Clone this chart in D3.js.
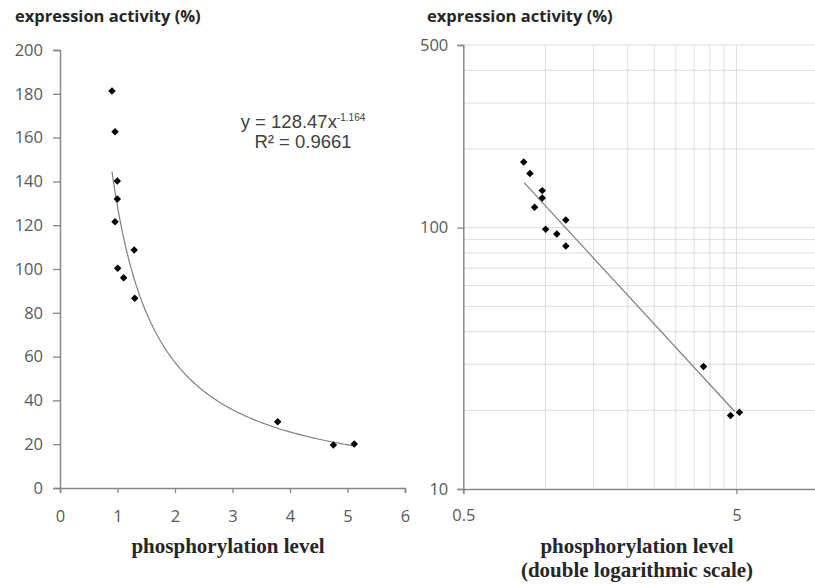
<!DOCTYPE html>
<html>
<head>
<meta charset="utf-8">
<script src="https://cdn.jsdelivr.net/npm/d3@7"></script>
<style>
  html, body { margin: 0; padding: 0; background: #fff; }
  svg { display: block; }
  .ylabel { font-family: "Open Sans", sans-serif; font-weight: bold; font-size: 16.5px; fill: #262626; }
  .xlabel { font-family: "Liberation Serif", serif; font-weight: bold; font-size: 21px; fill: #262626; }
  .tick text { font-family: "Open Sans", sans-serif; font-size: 16.5px; fill: #595959; }
  .eq { font-family: "Liberation Sans", Arial, sans-serif; font-size: 18.5px; fill: #404040; }
</style>
</head>
<body>
<svg id="chart" width="815" height="584"></svg>
<script>
// linear panel, values
const linX = [0.904, 0.957, 0.997, 0.997, 0.957, 1.29, 1.003, 1.107, 1.30, 3.786, 4.754, 5.118];
const linY = [181.3, 162.7, 140.2, 132.0, 121.6, 108.7, 100.3, 96.0, 86.6, 30.3, 19.6, 20.1];
const linXTicks = [0, 1, 2, 3, 4, 5, 6];
const linYTicks = [0, 20, 40, 60, 80, 100, 120, 140, 160, 180, 200];

// power trendline shown in the label
const fitA = 128.47;
const fitB = -1.164;

// log-log panel, values
const logX = [0.832, 0.877, 0.973, 0.973, 0.912, 1.187, 1.001, 1.10, 1.187, 3.79, 4.76, 5.13];
const logY = [178.4, 161, 138.6, 130, 119.7, 107, 98.6, 94.6, 85.1, 29.4, 19.1, 19.66];
const logXTicks = [0.5, 5];
const logYTicks = [10, 100, 500];
const logXGrid = [1, 1.5, 2, 2.5, 3, 3.5, 4, 4.5, 5];
const logYGrid = [20, 30, 40, 50, 60, 70, 80, 90, 100, 200, 300, 400, 500];
const trendLogX = [0.835, 4.93];
const trendLogY = [148.6, 19.8];

const svg = d3.select("#chart");
const axisColor = "#868686";
const marker = d3.symbol().type(d3.symbolSquare).size(28);

// ---------- left panel ----------
const xL = d3.scaleLinear().domain([0, 6]).range([60, 405]);
const yL = d3.scaleLinear().domain([0, 200]).range([488, 50]);

const gL = svg.append("g");

gL.append("text").attr("class", "ylabel").attr("x", 15).attr("y", 22)
  .text("expression activity (%)");

const axL = gL.append("g").attr("transform", "translate(60,0)")
  .call(d3.axisLeft(yL).tickValues(linYTicks).tickFormat(d3.format("d")).tickSize(7).tickPadding(10));
const axB = gL.append("g").attr("transform", "translate(0,488)")
  .call(d3.axisBottom(xL).tickValues(linXTicks).tickFormat(d3.format("d")).tickSize(5).tickPadding(17));

[axL, axB].forEach(a => {
  a.select(".domain").attr("stroke", axisColor).attr("stroke-width", 1.5);
  a.selectAll(".tick line").attr("stroke", axisColor).attr("stroke-width", 1.3);
});

// trendline curve
const fitXs = d3.range(0, 101).map(i => linX[0] + (d3.max(linX) - linX[0]) * i / 100);
gL.append("path")
  .datum(fitXs)
  .attr("fill", "none")
  .attr("stroke", "#7f7f7f")
  .attr("stroke-width", 1.2)
  .attr("d", d3.line().x(d => xL(d)).y(d => yL(fitA * Math.pow(d, fitB))));

gL.selectAll(".pt")
  .data(linX.map((x, i) => [x, linY[i]]))
  .enter()
  .append("path")
  .attr("d", marker)
  .attr("fill", "#000")
  .attr("transform", d => `translate(${xL(d[0])},${yL(d[1])}) rotate(45)`);

const eq = gL.append("text").attr("class", "eq").attr("x", 303).attr("y", 128).attr("text-anchor", "middle");
eq.append("tspan").text("y = 128.47x");
eq.append("tspan").attr("font-size", 10).attr("dy", -7).text("-1.164");
gL.append("text").attr("class", "eq").attr("x", 303).attr("y", 148).attr("text-anchor", "middle")
  .text("R² = 0.9661");

gL.append("text").attr("class", "xlabel").attr("x", 228).attr("y", 553).attr("text-anchor", "middle")
  .text("phosphorylation level");

// ---------- right panel ----------
const xR = d3.scaleLog().domain([0.5, 10]).range([463.3, 818.6]);
const yR = d3.scaleLog().domain([10, 500]).range([489, 45]);

const gR = svg.append("g");

gR.append("text").attr("class", "ylabel").attr("x", 427).attr("y", 22)
  .text("expression activity (%)");

// gridlines
gR.selectAll(".hgrid")
  .data(logYGrid)
  .enter()
  .append("line")
  .attr("x1", 463).attr("x2", 815)
  .attr("y1", d => yR(d)).attr("y2", d => yR(d))
  .attr("stroke", "#dcdcdc").attr("stroke-width", 1);

gR.selectAll(".vgrid")
  .data(logXGrid)
  .enter()
  .append("line")
  .attr("x1", d => xR(d)).attr("x2", d => xR(d))
  .attr("y1", 45).attr("y2", 489)
  .attr("stroke", "#dcdcdc").attr("stroke-width", 1);

const axRL = gR.append("g").attr("transform", "translate(463.3,0)")
  .call(d3.axisLeft(yR).tickValues(logYTicks).tickFormat(d3.format("d")).tickSize(6).tickPadding(9));
const axRB = gR.append("g").attr("transform", "translate(0,489)")
  .call(d3.axisBottom(xR).tickValues(logXTicks).tickFormat(d => String(d)).tickSize(5).tickPadding(15));

[axRL, axRB].forEach(a => {
  a.select(".domain").attr("stroke", axisColor).attr("stroke-width", 1.5);
  a.selectAll(".tick line").attr("stroke", axisColor).attr("stroke-width", 1.3);
});

gR.append("path")
  .datum(trendLogX.map((x, i) => [x, trendLogY[i]]))
  .attr("fill", "none")
  .attr("stroke", "#7f7f7f")
  .attr("stroke-width", 1.2)
  .attr("d", d3.line().x(d => xR(d[0])).y(d => yR(d[1])));

gR.selectAll(".pt")
  .data(logX.map((x, i) => [x, logY[i]]))
  .enter()
  .append("path")
  .attr("d", marker)
  .attr("fill", "#000")
  .attr("transform", d => `translate(${xR(d[0])},${yR(d[1])}) rotate(45)`);

gR.append("text").attr("class", "xlabel").attr("x", 637).attr("y", 553).attr("text-anchor", "middle")
  .text("phosphorylation level");
gR.append("text").attr("class", "xlabel").attr("x", 637).attr("y", 577).attr("text-anchor", "middle")
  .text("(double logarithmic scale)");
</script>
</body>
</html>
